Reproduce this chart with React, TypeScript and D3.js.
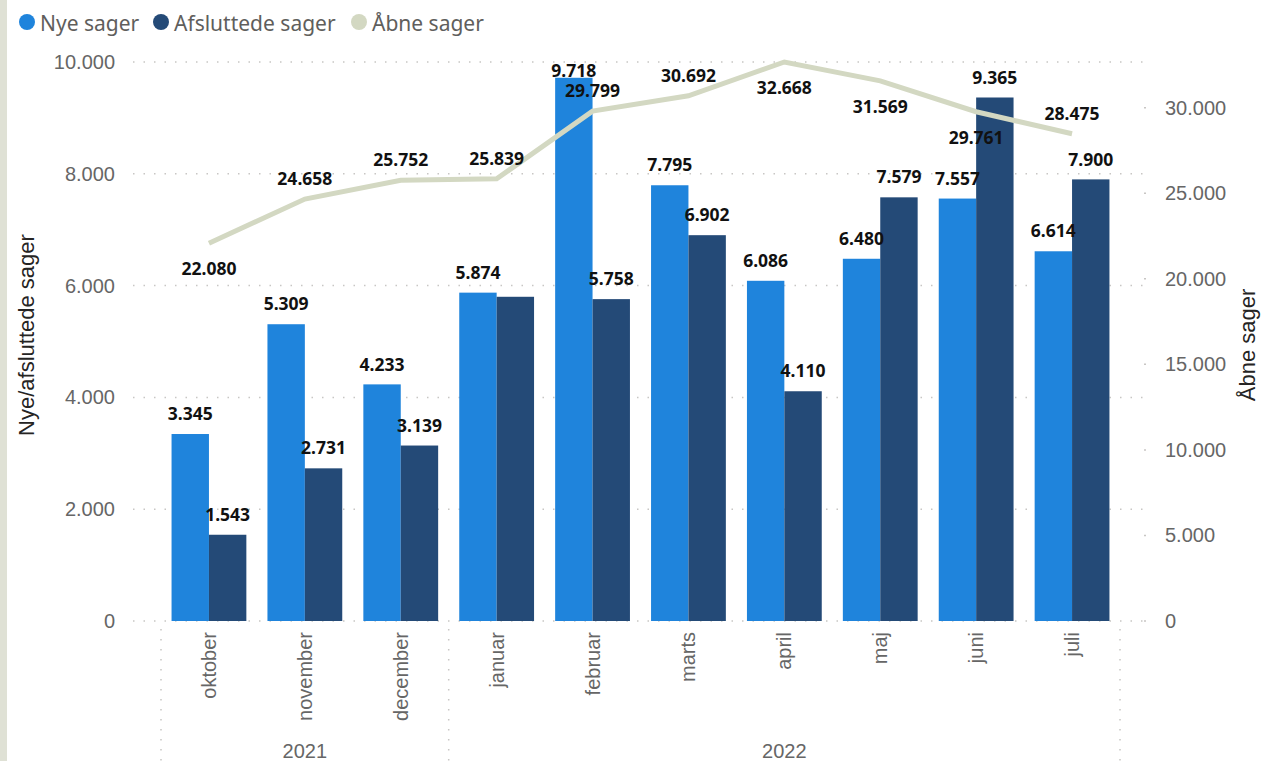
import React from "react";
import * as d3 from "d3";

const months = ["oktober", "november", "december", "januar", "februar", "marts", "april", "maj", "juni", "juli"];
const monthYears = ["2021", "2021", "2021", "2022", "2022", "2022", "2022", "2022", "2022", "2022"];
const nyeSager = [3345, 5309, 4233, 5874, 9718, 7795, 6086, 6480, 7557, 6614];
const afsluttedeSager = [1543, 2731, 3139, 5800, 5758, 6902, 4110, 7579, 9365, 7900];
// the reference hides the label of the januar closed-cases bar
const afsluttedeLabelShown = [true, true, true, false, true, true, true, true, true, true];
const aabneSager = [22080, 24658, 25752, 25839, 29799, 30692, 32668, 31569, 29761, 28475];
const aabneLabelBelow = [true, false, false, false, false, false, true, true, true, false];
const leftTicks = [0, 2000, 4000, 6000, 8000, 10000];
const rightTicks = [0, 5000, 10000, 15000, 20000, 25000, 30000];
const seriesNames = ["Nye sager", "Afsluttede sager", "Åbne sager"];

const W = 1264;
const H = 761;
const C_NYE = "#1f84dc";
const C_AFS = "#244a77";
const C_AAB = "#d3d8c2";
const GRID = "#c8c6c4";

const locale = d3.formatLocale({ decimal: ",", thousands: ".", grouping: [3], currency: ["", " kr"] });
const fmt = locale.format(",d");

export default function App() {
  const x = d3.scaleBand<string>().domain(months).range([161, 1120]).paddingInner(0.22).paddingOuter(0.11);
  const yL = d3.scaleLinear().domain([0, 10000]).range([621, 62]);
  const yR = d3.scaleLinear().domain([0, 32668]).range([621, 62]);
  const bw = x.bandwidth() / 2;
  const cx = (m: string) => (x(m) as number) + x.bandwidth() / 2;

  const line = d3
    .line<number>()
    .x((_, i) => cx(months[i]))
    .y((d) => yR(d));

  const years = Array.from(new Set(monthYears));
  const step = x.step();
  const groups = years.map((yr) => {
    const idx = monthYears.map((v, i) => (v === yr ? i : -1)).filter((i) => i >= 0);
    const x0 = 161 + idx[0] * step;
    const x1 = 161 + (idx[idx.length - 1] + 1) * step;
    return { yr, x0, x1 };
  });
  const seps = [161, ...groups.map((g) => g.x1)];

  const labelY = (v: number) => Math.max(yL(v) - 20, yL(10000) + 9);

  const legendX = [27, 161, 359];
  const legendColors = [C_NYE, C_AFS, C_AAB];

  return (
    <svg width={W} height={H} style={{ position: "absolute", left: 0, top: 0, background: "#fff" }}>
      <rect x={0} y={0} width={7} height={H} fill="#dfe1d5" />

      {seriesNames.map((s, i) => (
        <g key={s}>
          <circle cx={legendX[i]} cy={22} r={8} fill={legendColors[i]} />
          <text x={legendX[i] + 13} y={31} fontFamily="'Noto Sans', sans-serif" fontSize={21} fill="#605e5c">
            {s}
          </text>
        </g>
      ))}

      {leftTicks.map((t) => (
        <line key={"g" + t} x1={133} x2={1147} y1={yL(t)} y2={yL(t)} stroke={GRID} strokeWidth={1.5} strokeDasharray="1.5 9" />
      ))}
      {rightTicks.map((t) => (
        <line key={"rg" + t} x1={1144} x2={1146} y1={yR(t)} y2={yR(t)} stroke={GRID} strokeWidth={1.5} />
      ))}

      {leftTicks.map((t) => (
        <text key={"l" + t} x={115} y={yL(t)} dy="0.35em" textAnchor="end" fontFamily="'Liberation Sans', Arial, sans-serif" fontSize={20} fill="#666">
          {fmt(t)}
        </text>
      ))}
      {rightTicks.map((t) => (
        <text key={"r" + t} x={1165} y={yR(t)} dy="0.35em" textAnchor="start" fontFamily="'Liberation Sans', Arial, sans-serif" fontSize={20} fill="#666">
          {fmt(t)}
        </text>
      ))}

      <text transform={`translate(34,335) rotate(-90)`} textAnchor="middle" fontFamily="'Liberation Sans', Arial, sans-serif" fontSize={22} fill="#252423">
        Nye/afsluttede sager
      </text>
      <text transform={`translate(1255,345) rotate(-90)`} textAnchor="middle" fontFamily="'Liberation Sans', Arial, sans-serif" fontSize={22} fill="#252423">
        Åbne sager
      </text>

      {months.map((m, i) => (
        <g key={m}>
          <rect x={x(m)} y={yL(nyeSager[i])} width={bw} height={yL(0) - yL(nyeSager[i])} fill={C_NYE} />
          <rect x={(x(m) as number) + bw} y={yL(afsluttedeSager[i])} width={bw} height={yL(0) - yL(afsluttedeSager[i])} fill={C_AFS} />
        </g>
      ))}

      <path d={line(aabneSager) || ""} fill="none" stroke={C_AAB} strokeWidth={5} />

      {months.map((m, i) => (
        <g key={"bl" + m} fontFamily="'Noto Sans', sans-serif" fontWeight="bold" fontSize={17.5} fill="#111" textAnchor="middle">
          <text x={(x(m) as number) + bw / 2} y={labelY(nyeSager[i])} dy="0.35em">
            {fmt(nyeSager[i])}
          </text>
          {afsluttedeLabelShown[i] && (
            <text x={(x(m) as number) + bw * 1.5} y={labelY(afsluttedeSager[i])} dy="0.35em">
              {fmt(afsluttedeSager[i])}
            </text>
          )}
        </g>
      ))}

      {months.map((m, i) => (
        <text
          key={"ll" + m}
          x={cx(m)}
          y={yR(aabneSager[i]) + (aabneLabelBelow[i] ? 26 : -20)}
          dy="0.35em"
          textAnchor="middle"
          fontFamily="'Noto Sans', sans-serif"
          fontWeight="bold"
          fontSize={17.5}
          fill="#111"
        >
          {fmt(aabneSager[i])}
        </text>
      ))}

      {seps.map((s, i) => (
        <line key={"s" + i} x1={s} x2={s} y1={629} y2={H} stroke={GRID} strokeWidth={1.5} strokeDasharray="1.5 8.5" />
      ))}

      {months.map((m) => (
        <text
          key={"m" + m}
          transform={`translate(${cx(m)},632) rotate(-90)`}
          dy="0.35em"
          textAnchor="end"
          fontFamily="'Liberation Sans', Arial, sans-serif"
          fontSize={20}
          fill="#666"
        >
          {m}
        </text>
      ))}

      {groups.map((g) => (
        <text key={g.yr} x={(g.x0 + g.x1) / 2} y={758} textAnchor="middle" fontFamily="'Liberation Sans', Arial, sans-serif" fontSize={20} fill="#666">
          {g.yr}
        </text>
      ))}
    </svg>
  );
}
